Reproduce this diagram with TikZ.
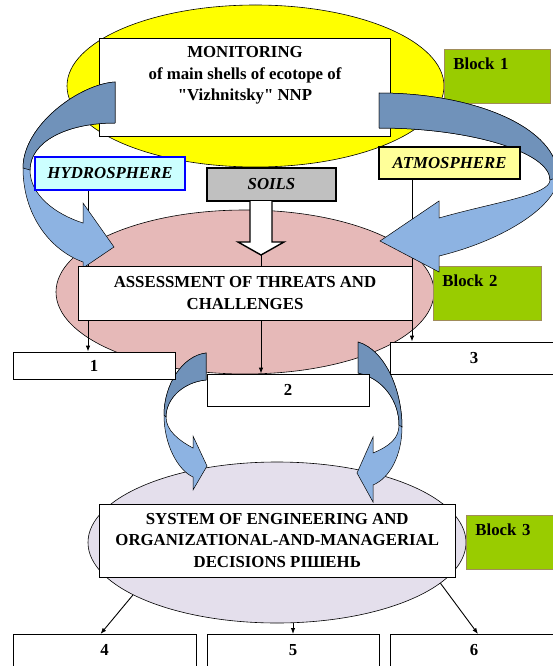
\documentclass[tikz,border=0pt]{standalone}
\usepackage{fontspec}
\setmainfont{Liberation Serif}[Ligatures=TeXOff]
\usetikzlibrary{arrows.meta,calc,shapes.geometric}
\pgfdeclarelayer{back}
\pgfdeclarelayer{lines}
\pgfdeclarelayer{bends}
\pgfsetlayers{back,lines,bends,main}
\definecolor{shellYellow}{HTML}{FFFF00}
\definecolor{threatPink}{HTML}{E6B9B8}
\definecolor{decisionLilac}{HTML}{E4DFEC}
\definecolor{blockGreen}{HTML}{99CC00}
\definecolor{blockBorder}{HTML}{A08C5A}
\definecolor{hydroFill}{HTML}{CCFFFF}
\definecolor{hydroBorder}{HTML}{0000FF}
\definecolor{atmoFill}{HTML}{FFFF99}
\definecolor{soilsFill}{HTML}{C0C0C0}
\definecolor{bendDark}{HTML}{7092BA}
\definecolor{bendLight}{HTML}{8DB3E2}

\begin{document}
\begin{tikzpicture}[
  x=1pt, y=-1pt,
  >={Latex[length=6pt,width=4.5pt]},
  font=\fontsize{16.8}{21.5}\selectfont\bfseries,
  shell/.style={ellipse, draw=black, line width=0.6pt, inner sep=0pt},
  box/.style={draw=black, fill=white, line width=0.8pt, align=center},
  block/.style={
    draw=blockBorder,
    fill=blockGreen,
    line width=0.8pt,
    anchor=north west,
    inner xsep=9pt,
    inner ysep=0pt,
    text height=20pt,
    text depth=34pt,
    align=left
  },
  sphere/.style={box, line width=1.2pt, font=\fontsize{16.8}{21.5}\selectfont\bfseries\itshape},
  numbox/.style={box},
  lownum/.style={numbox, anchor=north, inner ysep=0pt, text height=21pt, text depth=30pt},
  bendback/.style={fill=bendDark, draw=black, line width=0.5pt},
  bendfront/.style={fill=bendLight, draw=black, line width=0.5pt},
  flow/.style={->, draw=black, line width=0.9pt},
  hollow/.style={draw=black, fill=white, line width=1.4pt, line join=miter}
]
\useasboundingbox (0,0) rectangle (553,666);

% shells, blocks and the monitoring frame
\begin{pgfonlayer}{back}
\fill[white] (0,0) rectangle (553,666);
\node[shell, fill=shellYellow, minimum width=377pt, minimum height=162pt] (shells) at (255.5,86) {};
\node[shell, fill=threatPink, minimum width=378pt, minimum height=164pt] (threats) at (245,292) {};
\node[shell, fill=decisionLilac, minimum width=378pt, minimum height=161pt] (decisions) at (277,542.5) {};

\node[block, text width=88pt] (block1) at (444,49) {Block 1};
\node[block, text width=90pt] (block2) at (433,266) {Block 2};
\node[block, text width=100pt] (block3) at (466,515) {Block 3};

\node[box, minimum width=291pt, minimum height=98pt] (monitor) at (245,87) {};
\node[anchor=north, align=center, inner sep=0pt] (monitor-text) at ([yshift=-9pt]monitor.north)
  {MONITORING\\of main shells of ecotope of\\"Vizhnitsky" NNP};
\end{pgfonlayer}

% shells of the ecotope
\node[sphere, draw=hydroBorder, fill=hydroFill, minimum width=150pt, minimum height=33pt] (hydro) at (110,173.5) {HYDROSPHERE};
\node[sphere, fill=soilsFill, line width=1.6pt, minimum width=129pt, minimum height=33pt] (soils) at (271.5,184.5) {SOILS};
\node[sphere, fill=atmoFill, minimum width=141pt, minimum height=32pt] (atmo) at (449.5,163) {ATMOSPHERE};

\node[box, minimum width=334pt, minimum height=54pt] (assess) at (245,293) {ASSESSMENT OF THREATS AND\\CHALLENGES};

\node[numbox, minimum width=162pt, minimum height=27pt] (box1) at (94,365.5) {1};
\node[numbox, minimum width=162pt, minimum height=32pt] (box2) at (288,390) {2};
\node[numbox, minimum width=168pt, minimum height=32pt] (box3) at (474,358) {3};

\node[box, minimum width=355.5pt, minimum height=73pt] (system) at (277.25,540.5)
  {SYSTEM OF ENGINEERING AND\\ORGANIZATIONAL-AND-MANAGERIAL\\DECISIONS РІШЕНЬ};

\node[lownum, minimum width=183pt] (box4) at (104.5,634) {4};
\node[lownum, minimum width=172pt] (box5) at (293,634) {5};
\node[lownum, minimum width=168pt] (box6) at (474,634) {6};

% hollow arrow under soils
\coordinate (soils-tip) at (261,255);
\draw[hollow] (250,201) -- (250,242) -- (238,242) -- (soils-tip) -- (284,242) -- (272,242) -- (272,201);

% thin connectors
\begin{pgfonlayer}{lines}
\draw[flow] ([xshift=-22pt]hydro.south) -- ([xshift=-22pt]hydro.south |- box1.north);
\draw[flow] ([xshift=-37.5pt]atmo.south) -- ([xshift=-37.5pt]atmo.south |- box3.north);
\draw[flow] (soils-tip) -- (soils-tip |- box2.north);
\draw[flow] (decisions.200) -- ([xshift=-4pt]box4.north);
\draw[flow] (decisions.south -| box5.north) -- (box5.north);
\draw[flow] (decisions.-14.5) -- ([xshift=4pt]box6.north);
\end{pgfonlayer}

% curved arrows
\begin{pgfonlayer}{bends}
\draw[bendfront] (115,82) .. controls (80,84) and (23,125) .. (23,168)
  .. controls (23,215) and (50,250) .. (83,262)
  -- (83,268) -- (114,247) -- (83,203) -- (83,223)
  .. controls (55,214) and (30,195) .. (30,170)
  .. controls (30,142) and (66,123) .. (115,123) -- cycle;
\draw[bendback] (115,82) .. controls (80,84) and (23,125) .. (23,168)
  -- (30,170) .. controls (30,142) and (66,123) .. (115,123) -- cycle;

\draw[bendfront] (379,93) .. controls (475,93) and (558,128) .. (558,177)
  .. controls (558,205) and (505,240) .. (439,256)
  -- (439,272) -- (380,241) -- (439,201) -- (439,218)
  .. controls (495,202) and (550,195) .. (550,180)
  .. controls (550,152) and (470,128) .. (379,128) -- cycle;
\draw[bendback] (379,93) .. controls (475,93) and (558,128) .. (558,177)
  -- (550,180) .. controls (550,152) and (470,128) .. (379,128) -- cycle;

\draw[bendfront] (206,353) .. controls (182,356) and (164,385) .. (164,415)
  .. controls (164,445) and (178,470) .. (193,477)
  -- (193,490) -- (207,466) -- (193,436) -- (193,448)
  .. controls (178,440) and (166,430) .. (166,417)
  .. controls (166,398) and (184,382) .. (206,380) -- cycle;
\draw[bendback] (206,353) .. controls (182,356) and (164,385) .. (164,415)
  -- (166,417) .. controls (166,398) and (184,382) .. (206,380) -- cycle;

\draw[bendfront] (358,342) .. controls (385,350) and (402,390) .. (402,427)
  .. controls (402,455) and (390,478) .. (373,485)
  -- (373,502) -- (357,473) -- (373,437) -- (373,453)
  .. controls (390,446) and (399,438) .. (399,425)
  .. controls (399,400) and (382,378) .. (358,373) -- cycle;
\draw[bendback] (358,342) .. controls (385,350) and (402,390) .. (402,427)
  -- (399,425) .. controls (399,400) and (382,378) .. (358,373) -- cycle;
\end{pgfonlayer}

\end{tikzpicture}
\end{document}
